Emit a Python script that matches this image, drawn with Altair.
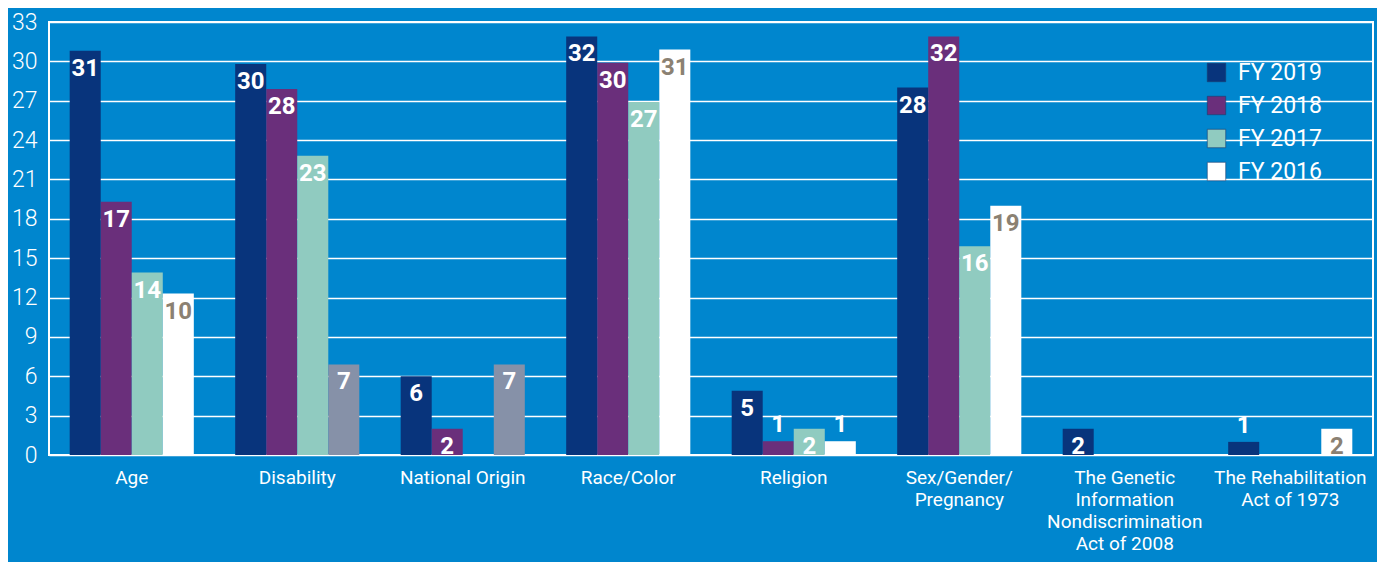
import altair as alt
import pandas as pd

categories = ["Age", "Disability", "National Origin", "Race/Color", "Religion",
              "Sex/Gender/|Pregnancy",
              "The Genetic|Information|Nondiscrimination|Act of 2008",
              "The Rehabilitation|Act of 1973"]
series = ["FY 2019", "FY 2018", "FY 2017", "FY 2016"]

# printed labels
lab_2019 = [31, 30, 6, 32, 5, 28, 2, 1]
lab_2018 = [17, 28, 2, 30, 1, 32, None, None]
lab_2017 = [14, 23, None, 27, 2, 16, None, None]
lab_2016 = [10, 7, 7, 31, 1, 19, None, 2]

# drawn bar heights
h_2019 = [30.8, 29.8, 6.0, 31.9, 4.9, 28.0, 2.0, 1.0]
h_2018 = [19.3, 27.9, 2.0, 29.9, 1.05, 31.9, None, None]
h_2017 = [13.9, 22.8, None, 26.9, 2.0, 15.9, None, None]
h_2016 = [12.3, 6.9, 6.9, 30.9, 1.05, 19.0, None, 2.0]

# FY 2016 bars shown in grey instead of white
grey_2016 = [False, True, True, False, False, False, False, False]

colors = ["#08347C", "#6A2F7B", "#90CBC0", "#FFFFFF"]
GREY = "#8691A8"
BROWN = "#8B8172"
BG = "#0086CE"

rows = []
for s, labs, hs in zip(series, [lab_2019, lab_2018, lab_2017, lab_2016],
                       [h_2019, h_2018, h_2017, h_2016]):
    for i, c in enumerate(categories):
        if labs[i] is None:
            continue
        g = (s == "FY 2016") and grey_2016[i]
        inside = hs[i] >= 1.5
        tc = BROWN if (s == "FY 2016" and not g and inside) else "#FFFFFF"
        rows.append({"cat": c, "series": s, "h": hs[i], "label": str(labs[i]),
                     "grey": g, "tcolor": tc})
df = pd.DataFrame(rows)

W, H = 1324, 433

x = alt.X("cat:N", sort=categories, title=None,
          scale=alt.Scale(paddingInner=0.25, paddingOuter=0.125),
          axis=alt.Axis(labelAngle=0, ticks=False, domain=False, grid=False,
                        labelFontSize=19, labelColor="white", labelFont="Roboto",
                        labelPadding=13, labelLineHeight=22,
                        labelExpr="split(datum.label, '|')"))
xo = alt.XOffset("series:N", sort=series, scale=alt.Scale(domain=series))
y = alt.Y("h:Q", title=None,
          scale=alt.Scale(domain=[0, 33], nice=False),
          axis=alt.Axis(values=list(range(0, 34, 3)), ticks=False, domain=False,
                        grid=True, gridColor="white", gridWidth=1.5,
                        labelFontSize=23, labelColor="white", labelFont="Roboto",
                        labelFontWeight=300, labelPadding=12))

base = alt.Chart(df)

bars = base.mark_bar().encode(
    x=x, xOffset=xo, y=y,
    color=alt.condition(
        "datum.grey",
        alt.value(GREY),
        alt.Color("series:N", sort=series,
                  scale=alt.Scale(domain=series, range=colors),
                  legend=alt.Legend(title=None, orient="none", legendX=1156, legendY=39,
                                    symbolType="square", symbolSize=340,
                                    symbolStrokeColor="#1B3A6B", symbolStrokeWidth=0.6,
                                    labelFontSize=23, labelColor="white",
                                    labelFont="Roboto", labelFontWeight=400,
                                    labelOffset=10, rowPadding=9))
    ),
)

txt_in = base.transform_filter("datum.h >= 1.5").mark_text(
    baseline="top", dy=6, font="Roboto", fontWeight="bold", fontSize=24
).encode(x=x, xOffset=xo, y=y, text="label:N",
         color=alt.Color("tcolor:N", scale=None))

txt_out = base.transform_filter("datum.h < 1.5").mark_text(
    baseline="bottom", dy=-4, font="Roboto", fontWeight="bold", fontSize=24
).encode(x=x, xOffset=xo, y=y, text="label:N",
         color=alt.Color("tcolor:N", scale=None))

chart = alt.layer(bars, txt_in, txt_out).properties(
    width=W, height=H,
    autosize="none",
    padding={"left": 41, "top": 14, "right": 4, "bottom": 107},
    background=BG,
).configure_view(stroke="white", strokeWidth=2)

chart.save("out.html", embed_options={"renderer": "svg", "actions": False})
